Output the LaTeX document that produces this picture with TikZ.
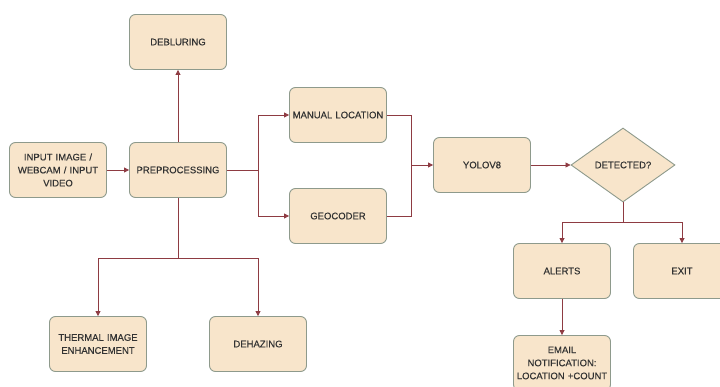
\documentclass[tikz,border=0pt]{standalone}
\usepackage{fontspec}
\setmainfont{Liberation Sans}
\newfontfamily\labelfont{Liberation Sans}[FakeBold=0.35]
\usetikzlibrary{arrows.meta,shapes.geometric}
\definecolor{boxfill}{HTML}{F8E5CB}
\definecolor{boxline}{HTML}{8E9A8C}
\definecolor{conn}{HTML}{8E3B42}
\definecolor{txt}{HTML}{333333}
\tikzset{
  box/.style={draw=boxline, fill=boxfill, line width=0.9pt, rounded corners=6pt,
    minimum width=97pt, minimum height=55pt, inner sep=1pt, align=center,
    text=txt, font=\labelfont\fontsize{9.5}{13}\selectfont, text width=95pt},
  dia/.style={draw=boxline, fill=boxfill, line width=0.9pt, diamond, aspect=1.4,
    minimum width=104pt, minimum height=74pt, inner sep=0pt, align=center,
    text=txt, font=\labelfont\fontsize{9.5}{13}\selectfont},
  conn/.style={draw=conn, line width=0.8pt, -{Triangle[length=5pt,width=5pt]}},
  plain/.style={draw=conn, line width=0.8pt}
}
\begin{document}
\begin{tikzpicture}[x=1pt,y=-1pt]
\useasboundingbox (0,0) rectangle (720,387);
\node[box] (deblur) at (178,42) {DEBLURING};
\node[box] (input) at (58,170) {INPUT IMAGE /\\WEBCAM / INPUT\\VIDEO};
\node[box] (pre) at (178,170) {PREPROCESSING};
\node[box] (manual) at (338,115) {MANUAL LOCATION};
\node[box] (geo) at (338,216) {GEOCODER};
\node[box] (yolo) at (482,165) {YOLOV8};
\node[dia] (det) at (623,165) {DETECTED?};
\node[box] (alerts) at (562,271) {ALERTS};
\node[box] (exit) at (682,271) {EXIT};
\node[box] (email) at (562,363) {EMAIL\\NOTIFICATION:\\LOCATION +COUNT};
\node[box] (thermal) at (98,344) {THERMAL IMAGE\\ENHANCEMENT};
\node[box] (dehaze) at (258,344) {DEHAZING};
\coordinate (splitA) at (258,170);
\coordinate (joinB) at (411,165);
\coordinate (splitC) at (178,258);
\coordinate (splitD) at (623,222);

\draw[conn] (input) -- (pre);
\draw[conn] (pre) -- (deblur);
\draw[plain] (pre.east) -- (splitA);
\draw[conn] (splitA) |- (manual.west);
\draw[conn] (splitA) |- (geo.west);
\draw[plain] (manual.east) -| (joinB);
\draw[plain] (geo.east) -| (joinB);
\draw[conn] (joinB) -- (yolo.west);
\draw[conn] (yolo) -- (det);
\draw[plain] (pre.south) -- (splitC);
\draw[conn] (splitC) -| (thermal.north);
\draw[conn] (splitC) -| (dehaze.north);
\draw[plain] (det.south) -- (splitD);
\draw[conn] (splitD) -| (alerts.north);
\draw[conn] (splitD) -| (exit.north);
\draw[conn] (alerts) -- (email);
\end{tikzpicture}
\end{document}
